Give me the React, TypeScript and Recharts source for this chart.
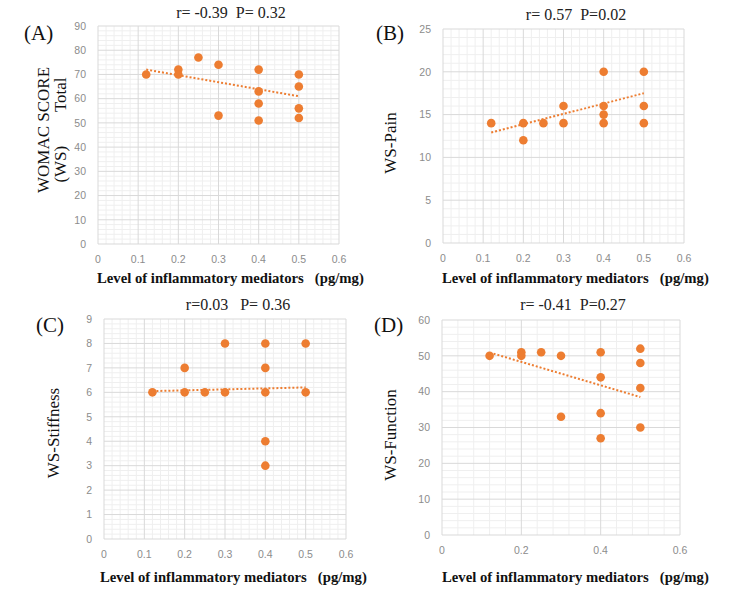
import React from "react";
import { ReferenceLine, Scatter, ScatterChart, XAxis, YAxis } from "recharts";

const ORANGE = "#ed7d31";
const MAJOR_GRID = "#d9d9d9";
const MINOR_GRID = "#efefef";
const TICK_GREY = "#8c8c8c";
const SERIF = "'Liberation Serif', 'Times New Roman', serif";
const SANS = "'Liberation Sans', Arial, sans-serif";

// mediator level (pg/mg) for each patient
const levelTotal = [0.12, 0.2, 0.2, 0.25, 0.3, 0.3, 0.4, 0.4, 0.4, 0.4, 0.5, 0.5, 0.5, 0.5];
const levelPain = [0.12, 0.2, 0.2, 0.25, 0.3, 0.3, 0.4, 0.4, 0.4, 0.4, 0.5, 0.5, 0.5];
const levelStiffness = [0.12, 0.2, 0.2, 0.25, 0.3, 0.3, 0.4, 0.4, 0.4, 0.4, 0.4, 0.5, 0.5];
const levelFunction = [0.12, 0.2, 0.2, 0.25, 0.3, 0.3, 0.4, 0.4, 0.4, 0.4, 0.5, 0.5, 0.5, 0.5];

// WOMAC scores
const wsTotal = [70, 72, 70, 77, 74, 53, 72, 63, 58, 51, 70, 65, 56, 52];
const wsPain = [14, 14, 12, 14, 16, 14, 20, 16, 15, 14, 20, 16, 14];
const wsStiffness = [6, 7, 6, 6, 8, 6, 8, 7, 6, 4, 3, 8, 6];
const wsFunction = [50, 51, 50, 51, 50, 33, 51, 44, 34, 27, 52, 48, 41, 30];

// linear trend end points
const trendTotalX = [0.12, 0.5];
const trendTotalY = [72, 61];
const trendPainX = [0.12, 0.5];
const trendPainY = [12.9, 17.5];
const trendStiffnessX = [0.12, 0.5];
const trendStiffnessY = [6.05, 6.2];
const trendFunctionX = [0.13, 0.5];
const trendFunctionY = [50.6, 38.5];

// axis ticks and minor gridlines
const xTicksFine = [0, 0.1, 0.2, 0.3, 0.4, 0.5, 0.6];
const xMinorFine = [0.02, 0.04, 0.06, 0.08, 0.12, 0.14, 0.16, 0.18, 0.22, 0.24, 0.26, 0.28, 0.32, 0.34, 0.36, 0.38, 0.42, 0.44, 0.46, 0.48, 0.52, 0.54, 0.56, 0.58];
const xTicksCoarse = [0, 0.2, 0.4, 0.6];
const xMinorCoarse = [0.04, 0.08, 0.12, 0.16, 0.24, 0.28, 0.32, 0.36, 0.44, 0.48, 0.52, 0.56];
const yTicksTotal = [0, 10, 20, 30, 40, 50, 60, 70, 80, 90];
const yMinorTotal = [2, 4, 6, 8, 12, 14, 16, 18, 22, 24, 26, 28, 32, 34, 36, 38, 42, 44, 46, 48, 52, 54, 56, 58, 62, 64, 66, 68, 72, 74, 76, 78, 82, 84, 86, 88];
const yTicksPain = [0, 5, 10, 15, 20, 25];
const yMinorPain = [1, 2, 3, 4, 6, 7, 8, 9, 11, 12, 13, 14, 16, 17, 18, 19, 21, 22, 23, 24];
const yTicksStiffness = [0, 1, 2, 3, 4, 5, 6, 7, 8, 9];
const yMinorStiffness = [0.2, 0.4, 0.6, 0.8, 1.2, 1.4, 1.6, 1.8, 2.2, 2.4, 2.6, 2.8, 3.2, 3.4, 3.6, 3.8, 4.2, 4.4, 4.6, 4.8, 5.2, 5.4, 5.6, 5.8, 6.2, 6.4, 6.6, 6.8, 7.2, 7.4, 7.6, 7.8, 8.2, 8.4, 8.6, 8.8];
const yTicksFunction = [0, 10, 20, 30, 40, 50, 60];
const yMinorFunction = [2, 4, 6, 8, 12, 14, 16, 18, 22, 24, 26, 28, 32, 34, 36, 38, 42, 44, 46, 48, 52, 54, 56, 58];

const zip = (xs: number[], ys: number[]) => xs.map((x, i) => ({ x, y: ys[i] }));

type PanelProps = {
  left: number;
  top: number;
  width: number;
  height: number;
  margin: { top: number; right: number; bottom: number; left: number };
  xs: number[];
  ys: number[];
  trendX: number[];
  trendY: number[];
  xTicks: number[];
  xMinor: number[];
  yTicks: number[];
  yMinor: number[];
};

const tickStyle = { fill: TICK_GREY, fontSize: 10.5, fontFamily: SANS };

function Panel(p: PanelProps) {
  const xDomain = [p.xTicks[0], p.xTicks[p.xTicks.length - 1]];
  const yDomain = [p.yTicks[0], p.yTicks[p.yTicks.length - 1]];
  return (
    <div style={{ position: "absolute", left: p.left, top: p.top }}>
      <ScatterChart width={p.width} height={p.height} margin={p.margin}>
        <XAxis
          type="number"
          dataKey="x"
          domain={xDomain}
          ticks={p.xTicks}
          interval={0}
          tick={tickStyle}
          tickLine={false}
          axisLine={false}
          tickMargin={6}
          height={20}
        />
        <YAxis
          type="number"
          dataKey="y"
          domain={yDomain}
          ticks={p.yTicks}
          interval={0}
          tick={tickStyle}
          tickLine={false}
          axisLine={false}
          tickMargin={6}
          width={30}
        />
        {/* light minor grid first, then the major grid over it */}
        {p.xMinor.map((v) => (
          <ReferenceLine key={`xm${v}`} x={v} stroke={MINOR_GRID} strokeWidth={1} />
        ))}
        {p.yMinor.map((v) => (
          <ReferenceLine key={`ym${v}`} y={v} stroke={MINOR_GRID} strokeWidth={1} />
        ))}
        {p.xTicks.map((v) => (
          <ReferenceLine key={`x${v}`} x={v} stroke={MAJOR_GRID} strokeWidth={1} />
        ))}
        {p.yTicks.map((v) => (
          <ReferenceLine key={`y${v}`} y={v} stroke={MAJOR_GRID} strokeWidth={1} />
        ))}
        <Scatter
          data={zip(p.trendX, p.trendY)}
          line={{ stroke: ORANGE, strokeWidth: 2, strokeDasharray: "2 2" }}
          shape={() => <g />}
          isAnimationActive={false}
        />
        <Scatter
          data={zip(p.xs, p.ys)}
          fill={ORANGE}
          shape={(s: any) => <circle cx={s.cx} cy={s.cy} r={4.3} fill={ORANGE} />}
          isAnimationActive={false}
        />
      </ScatterChart>
    </div>
  );
}

const titleStyle = { fontFamily: SERIF, fontSize: 16, fill: "#222" };
const letterStyle = { fontFamily: SERIF, fontSize: 21, fill: "#111" };
const yLabelStyle = { fontFamily: SERIF, fontSize: 17, fill: "#111" };
const xLabelStyle = { fontFamily: SERIF, fontSize: 14.7, fontWeight: 700, fill: "#111" };
const X_LABEL = "Level of inflammatory mediators   (pg/mg)";

export default function App() {
  return (
    <div style={{ position: "absolute", left: 0, top: 0, width: 750, height: 607, background: "#fff", overflow: "hidden" }}>
      <Panel
        left={0}
        top={0}
        width={375}
        height={300}
        margin={{ top: 26, right: 36, bottom: 36, left: 68 }}
        xs={levelTotal}
        ys={wsTotal}
        trendX={trendTotalX}
        trendY={trendTotalY}
        xTicks={xTicksFine}
        xMinor={xMinorFine}
        yTicks={yTicksTotal}
        yMinor={yMinorTotal}
      />
      <Panel
        left={375}
        top={0}
        width={375}
        height={300}
        margin={{ top: 29, right: 66, bottom: 37, left: 38 }}
        xs={levelPain}
        ys={wsPain}
        trendX={trendPainX}
        trendY={trendPainY}
        xTicks={xTicksFine}
        xMinor={xMinorFine}
        yTicks={yTicksPain}
        yMinor={yMinorPain}
      />
      <Panel
        left={0}
        top={300}
        width={375}
        height={307}
        margin={{ top: 19, right: 29, bottom: 48, left: 74 }}
        xs={levelStiffness}
        ys={wsStiffness}
        trendX={trendStiffnessX}
        trendY={trendStiffnessY}
        xTicks={xTicksFine}
        xMinor={xMinorFine}
        yTicks={yTicksStiffness}
        yMinor={yMinorStiffness}
      />
      <Panel
        left={375}
        top={300}
        width={375}
        height={307}
        margin={{ top: 20, right: 70, bottom: 52, left: 37 }}
        xs={levelFunction}
        ys={wsFunction}
        trendX={trendFunctionX}
        trendY={trendFunctionY}
        xTicks={xTicksCoarse}
        xMinor={xMinorCoarse}
        yTicks={yTicksFunction}
        yMinor={yMinorFunction}
      />

      {/* panel letters, correlation titles and axis captions */}
      <svg width={750} height={607} style={{ position: "absolute", left: 0, top: 0, pointerEvents: "none" }}>
        <text x={231} y={18} textAnchor="middle" style={titleStyle} xmlSpace="preserve">r= -0.39  P= 0.32</text>
        <text x={576} y={20} textAnchor="middle" style={titleStyle} xmlSpace="preserve">r= 0.57  P=0.02</text>
        <text x={238} y={310} textAnchor="middle" style={titleStyle} xmlSpace="preserve">r=0.03   P= 0.36</text>
        <text x={573} y={310} textAnchor="middle" style={titleStyle} xmlSpace="preserve">r= -0.41  P=0.27</text>

        <text x={24} y={40} style={letterStyle}>(A)</text>
        <text x={376} y={40} style={letterStyle}>(B)</text>
        <text x={36} y={332} style={letterStyle}>(C)</text>
        <text x={374} y={332} style={letterStyle}>(D)</text>

        <text transform="translate(49,130) rotate(-90)" textAnchor="middle" style={yLabelStyle}>WOMAC SCORE</text>
        <text transform="translate(66,130) rotate(-90)" textAnchor="middle" style={yLabelStyle} xmlSpace="preserve">(WS)        Total</text>
        <text transform="translate(396,143) rotate(-90)" textAnchor="middle" style={yLabelStyle}>WS-Pain</text>
        <text transform="translate(59,433) rotate(-90)" textAnchor="middle" style={yLabelStyle}>WS-Stiffness</text>
        <text transform="translate(396,435) rotate(-90)" textAnchor="middle" style={yLabelStyle}>WS-Function</text>

        <text x={97} y={283} style={xLabelStyle} xmlSpace="preserve">{X_LABEL}</text>
        <text x={442} y={283} style={xLabelStyle} xmlSpace="preserve">{X_LABEL}</text>
        <text x={100} y={582} style={xLabelStyle} xmlSpace="preserve">{X_LABEL}</text>
        <text x={442} y={582} style={xLabelStyle} xmlSpace="preserve">{X_LABEL}</text>
      </svg>
    </div>
  );
}
